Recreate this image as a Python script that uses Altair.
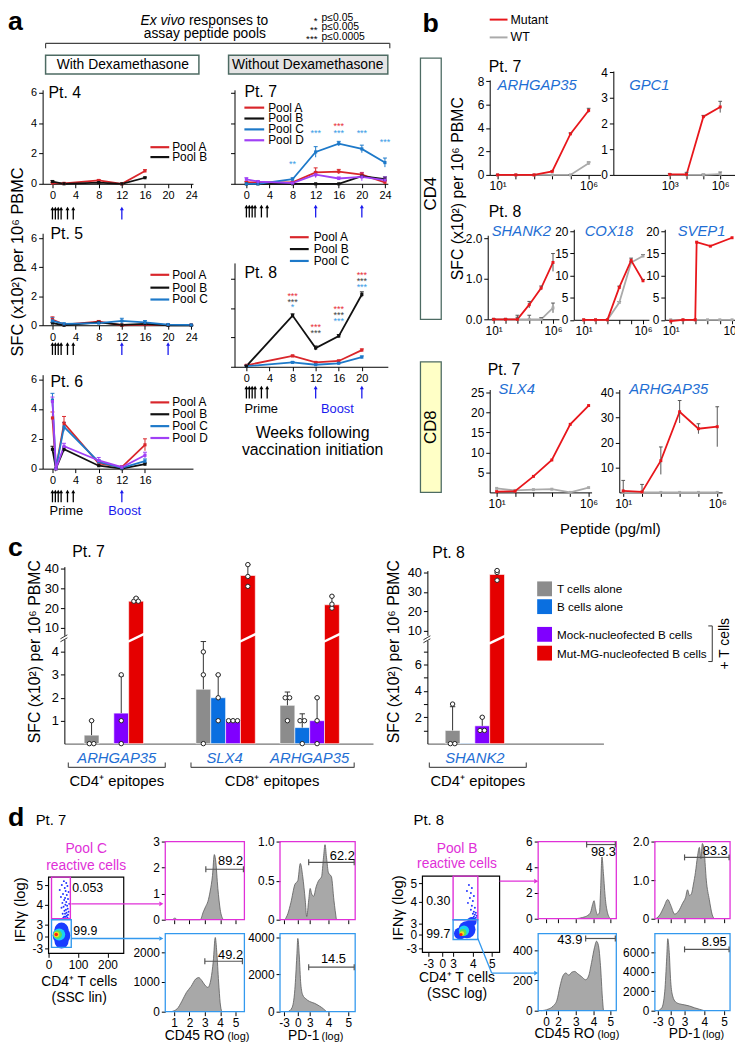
import altair as alt
import pandas as pd

# ============================ DATA ============================
# ---- panel a: ex vivo responses, SFC (x10^2 per 10^6 PBMC) vs weeks ----
PRIME_WEEKS = [0, 0.5, 1.0, 1.5, 2.6, 3.6]

P4_WEEKS = [0, 2, 8, 12, 16]
P4_POOL_A = [0.05, 0.03, 0.22, 0.0, 0.85]
P4_POOL_A_ERR = [0.04, 0.02, 0.06, 0.02, 0.08]
P4_POOL_B = [0.15, 0.0, 0.08, 0.0, 0.40]
P4_POOL_B_ERR = [0.06, 0.0, 0.03, 0.0, 0.04]
P4_BOOST = [12]

P5_WEEKS = [0, 2, 8, 12, 16, 20, 24]
P5_POOL_A = [0.40, 0.05, 0.25, 0.0, 0.05, 0.02, 0.02]
P5_POOL_A_ERR = [0.18, 0.03, 0.08, 0.02, 0.03, 0.02, 0.02]
P5_POOL_B = [0.15, 0.0, 0.20, 0.02, 0.10, 0.0, 0.0]
P5_POOL_B_ERR = [0.05, 0.0, 0.05, 0.02, 0.04, 0.0, 0.0]
P5_POOL_C = [0.30, 0.10, 0.15, 0.30, 0.20, 0.05, 0.02]
P5_POOL_C_ERR = [0.22, 0.05, 0.05, 0.18, 0.12, 0.03, 0.02]
P5_BOOST = [12, 20]

P6_WEEKS = [0, 0.6, 2, 8, 12, 16]
P6_POOL_A = [3.4, 0.0, 3.05, 0.35, 0.10, 1.6]
P6_POOL_A_ERR = [0.4, 0.0, 0.45, 0.10, 0.08, 0.4]
P6_POOL_B = [1.3, 0.0, 1.3, 0.20, 0.0, 0.30]
P6_POOL_B_ERR = [0.2, 0.0, 0.15, 0.05, 0.0, 0.08]
P6_POOL_C = [4.6, 0.0, 2.8, 0.45, 0.05, 0.50]
P6_POOL_C_ERR = [0.45, 0.0, 0.3, 0.15, 0.05, 0.15]
P6_POOL_D = [4.5, 0.0, 1.5, 0.55, 0.10, 0.90]
P6_POOL_D_ERR = [0.3, 0.0, 0.2, 0.2, 0.08, 0.2]
P6_BOOST = [12]

P7_WEEKS = [0, 2, 8, 12, 16, 20, 24]
P7_POOL_A = [0.10, 0.10, 0.10, 0.75, 0.80, 0.60, 0.10]
P7_POOL_A_ERR = [0.05, 0.05, 0.05, 0.30, 0.15, 0.15, 0.10]
P7_POOL_B = [0.0, 0.0, 0.0, 0.0, 0.0, 0.50, 0.30]
P7_POOL_B_ERR = [0.0, 0.0, 0.0, 0.0, 0.0, 0.10, 0.15]
P7_POOL_C = [0.0, 0.0, 0.30, 2.10, 2.65, 2.30, 1.40]
P7_POOL_C_ERR = [0.0, 0.0, 0.10, 0.35, 0.15, 0.25, 0.30]
P7_POOL_D = [0.30, 0.15, 0.05, 0.60, 0.35, 0.45, 0.25]
P7_POOL_D_ERR = [0.10, 0.05, 0.05, 0.20, 0.10, 0.25, 0.20]
P7_BOOST = [12, 20]
P7_STAR_WEEKS = [8, 12, 16, 16, 20, 24]
P7_STAR_Y = [1.3, 3.33, 3.8, 3.33, 3.33, 2.75]
P7_STAR_TEXT = ["**", "***", "***", "***", "***", "***"]
P7_STAR_POOL = ["C", "C", "A", "C", "C", "C"]

P8_WEEKS = [0, 8, 12, 16, 20]
P8_POOL_A = [0.05, 0.37, 0.15, 0.20, 0.57]
P8_POOL_A_ERR = [0.02, 0.03, 0.03, 0.03, 0.04]
P8_POOL_B = [0.02, 1.75, 0.64, 1.05, 2.47]
P8_POOL_B_ERR = [0.02, 0.06, 0.07, 0.05, 0.09]
P8_POOL_C = [0.02, 0.15, 0.07, 0.12, 0.33]
P8_POOL_C_ERR = [0.02, 0.03, 0.02, 0.03, 0.04]
P8_BOOST = [12, 20]
P8_STAR_WEEKS = [8, 8, 8, 12, 12, 16, 16, 16, 20, 20, 20]
P8_STAR_Y = [2.43, 2.23, 2.03, 1.35, 1.15, 1.96, 1.76, 1.55, 3.14, 2.94, 2.74]
P8_STAR_TEXT = ["***", "***", "*", "***", "***", "***", "***", "***", "***", "***", "***"]
P8_STAR_POOL = ["A", "B", "C", "A", "B", "A", "B", "C", "A", "B", "C"]

# ---- panel b: peptide titrations (pg/ml) ----
B_CONC = [10, 100, 1e3, 1e4, 1e5, 1e6]
ARH7_MUT = [0.0, 0.0, 0.0, 0.3, 3.5, 5.5]
ARH7_MUT_ERR = [0.03, 0.03, 0.03, 0.05, 0.08, 0.18]
ARH7_WT = [0.0, 0.0, 0.0, 0.0, 0.0, 1.0]
ARH7_WT_ERR = [0.0, 0.0, 0.0, 0.0, 0.02, 0.1]
GPC1_CONC = [1e3, 1e4, 1e5, 1e6]
GPC1_MUT = [0.02, 0.02, 2.27, 2.65]
GPC1_MUT_ERR = [0.03, 0.08, 0.05, 0.22]
GPC1_WT = [0.0, 0.0, 0.0, 0.03]
GPC1_WT_ERR = [0.0, 0.0, 0.03, 0.08]
SHANK2_MUT = [0.0, 0.0, 0.0, 0.36, 0.77, 1.40]
SHANK2_MUT_ERR = [0.02, 0.02, 0.05, 0.08, 0.05, 0.22]
SHANK2_WT = [0.0, 0.0, 0.0, 0.0, 0.0, 0.28]
SHANK2_WT_ERR = [0.0, 0.0, 0.1, 0.1, 0.04, 0.12]
COX18_MUT = [0.0, 0.0, 0.0, 7.3, 13.4, 8.8]
COX18_MUT_ERR = [0.0, 0.0, 0.0, 0.3, 0.5, 0.3]
COX18_WT = [0.0, 0.0, 0.0, 3.9, 12.9, 14.4]
COX18_WT_ERR = [0.0, 0.0, 0.0, 0.2, 0.3, 0.3]
SVEP1_MUT_CONC = [10, 100, 1000, 1300, 17000, 1e6]
SVEP1_MUT = [-0.3, 0.0, 0.0, 17.5, 16.6, 18.5]
SVEP1_MUT_ERR = [0.0, 0.0, 0.0, 0.0, 0.0, 0.0]
SVEP1_WT = [0.0, 0.0, 0.0, 0.0, 0.0, 0.0]
SVEP1_WT_ERR = [0.0, 0.0, 0.0, 0.0, 0.0, 0.0]
SLX4_MUT = [0.2, 0.3, 4.0, 8.1, 17.0, 21.7]
SLX4_MUT_ERR = [0.0, 0.0, 0.0, 0.0, 0.0, 0.0]
SLX4_WT = [1.0, 0.5, 0.7, 0.8, 0.0, 1.2]
SLX4_WT_ERR = [0.0, 0.0, 0.0, 0.0, 0.0, 0.0]
ARH8_MUT = [0.6, 0.2, 12.7, 32.3, 25.5, 26.3]
ARH8_MUT_ERR = [4.2, 3.0, 5.5, 4.5, 2.0, 8.0]
ARH8_WT = [0.0, 0.0, 0.0, 0.0, 0.0, 0.0]
ARH8_WT_ERR = [0.0, 0.0, 0.0, 0.0, 0.0, 0.0]

# ---- panel c: B-cell presentation assay ----
C_CONDS = ["T cells alone", "B cells alone", "Mock-nucleofected B cells", "Mut-MG-nucleofected B cells"]
C7_MEAN = [[0.37, None, 1.33, 23.5], [2.37, 2.0, 1.0, 36.5], [1.67, 0.7, 1.0, 21.7]]
C7_UPPER = [[1.0, None, 2.95, 25.3], [4.45, 3.0, None, 42.0], [2.25, 1.3, 2.0, 26.0]]
C7_DOTS = [[[0, 0, 1], [], [0, 1, 3], [23.5, 25, 23.5]],
           [[0, 3, 4], [1, 2, 3], [1, 1, 1], [31, 36, 42]],
           [[1, 2, 2], [0, 1, 1], [0, 1, 2], [20, 22, 26]]]
C8_MEAN = [[1.0, 0.04, 1.35, 39.0]]
C8_UPPER = [[2.8, None, 2.0, 41.0]]
C8_DOTS = [[[0, 0, 3], [], [1, 1, 2], [36, 40, 41]]]

# ---- panel d: flow cytometry ----
PT7_DOT_X = [52, 60, 45, 64, 55, 38, 58, 68, 49, 62, 42, 56, 66, 53, 60, 47, 70, 57,
             63, 51, 44, 65, 59, 54, 68, 61, 48, 56, 66, 62, 58, 53, 64, 50, 69, 57]
PT7_DOT_Q = [73, 71, 69, 68, 66, 64, 63, 62, 60, 59, 57, 56, 55, 54, 52, 51, 50, 49,
             48, 47, 46, 45, 44, 43, 42, 41, 40, 40, 39, 38, 37, 37, 36, 36, 35, 35]
PT8_DOT_P = [47, 50, 45, 49, 52, 48, 51, 46, 50, 53, 49, 52, 54, 51, 53, 55, 52, 54]
PT8_DOT_Q = [68, 65, 62, 60, 57, 55, 52, 50, 47, 45, 43, 41, 40, 39, 38, 37, 36, 35]
BLOB_COLORS = ["#1a3cff", "#1a3cff", "#1a3cff", "#19d3f3", "#5be05b", "#f0e020", "#ff2010"]
PT7_BLOB_X = [44, 44, 44, 36, 31, 27, 26]
PT7_BLOB_Q = [18, 24, 12, 19, 19, 19, 19]
PT7_BLOB_S = [320, 200, 200, 150, 75, 32, 13]
PT8_BLOB_P = [45, 50, 38, 42, 41, 40, 39]
PT8_BLOB_Q = [23, 31, 19, 22, 20, 19, 18]
PT8_BLOB_S = [300, 90, 150, 110, 50, 20, 10]

PT7_CD45_TOP_X = [0.9, 1.05, 1.2, 2.7, 2.9, 3.05, 3.2, 3.35, 3.5, 3.62, 3.7, 3.85, 4.0, 4.2]
PT7_CD45_TOP_Y = [0, 0.06, 0, 0, 0.3, 0.5, 0.7, 1.1, 1.7, 2.5, 2.3, 1.2, 0.4, 0]
PT7_CD45_BOT_X = [0.8, 1.2, 1.5, 1.8, 2.1, 2.4, 2.6, 2.8, 3.0, 3.2, 3.4, 3.55, 3.68, 3.78, 3.9, 4.0, 4.1]
PT7_CD45_BOT_Y = [0, 100, 350, 650, 850, 1100, 1150, 1050, 900, 820, 1100, 1700, 2500, 2000, 1000, 300, 0]
PT7_PD1_TOP_P = [5, 8, 11, 15, 18, 20.5, 23, 25.5, 27, 29, 30.5, 32, 34, 36.5, 39, 42, 44, 45.5, 47, 49, 52, 54.5, 57]
PT7_PD1_TOP_Y = [0, 0.08, 0.22, 0.45, 0.5, 0.72, 0.55, 0.25, 0.04, 0.25, 0.4, 0.33, 0.3, 0.42, 0.5,
                 0.55, 0.8, 0.96, 0.8, 0.6, 0.55, 0.25, 0]
PT7_PD1_BOT_P = [8, 12, 15, 17, 18, 19.5, 21, 23, 26, 30, 35, 40, 44, 47]
PT7_PD1_BOT_Y = [0, 200, 1200, 3000, 3950, 3000, 1500, 900, 700, 550, 450, 300, 150, 0]
PT8_CD45_TOP_P = [38, 45, 50, 53, 55, 56.5, 58, 60, 62, 63, 64.5, 66, 68, 70, 73]
PT8_CD45_TOP_Y = [0, 0.1, 0.25, 0.5, 1.1, 1.4, 0.8, 0.3, 0.5, 2.0, 4.8, 3.5, 1.5, 0.5, 0]
PT8_CD45_BOT_P = [3, 10, 15, 19, 22, 25, 28, 31, 34, 37, 40, 44, 48, 51, 54, 57, 59, 61, 63, 65, 66]
PT8_CD45_BOT_Y = [0, 10, 30, 70, 160, 230, 250, 235, 255, 260, 245, 225, 205, 230, 320, 420, 460, 430, 300, 80, 0]
PT8_PD1_TOP_P = [1, 5, 9, 13, 16, 20, 24, 28, 31, 33, 35, 37, 39, 41, 43, 45, 46.5, 48, 50, 52, 55, 58, 60]
PT8_PD1_TOP_Y = [0, 0.1, 0.3, 0.5, 0.35, 0.12, 0.2, 0.4, 0.55, 0.75, 0.6, 0.65, 0.9, 1.2, 1.6, 1.85,
                 1.55, 1.95, 1.7, 1.0, 0.5, 0.1, 0]
PT8_PD1_BOT_P = [3, 7, 10, 12, 13, 14.5, 16, 18, 21, 25, 30, 35, 40, 45, 50]
PT8_PD1_BOT_Y = [0, 300, 2000, 5500, 7400, 6000, 3000, 1500, 900, 700, 600, 480, 300, 150, 0]

# ============================ STYLE / LAYOUT ============================
W, H, M = 735, 1042, 8
FONT = "Liberation Sans"

COL_A, COL_B, COL_C, COL_D = "#d9262b", "#111111", "#1d79c9", "#a040f5"
STAR_COL = {"A": "#e8303a", "B": "#444444", "C": "#3a9be6"}
COL_MUT, COL_WT = "#e8161b", "#aaaaaa"
COL_T, COL_BC, COL_MOCK, COL_MG = "#8c8c8c", "#0a6fe0", "#8000ff", "#e50000"
GENE_BLUE, BOOST_BLUE, MAGENTA, GATE_BLUE = "#1f6fd4", "#1a1aee", "#e030d8", "#3399ee"
BOX_EDGE = "#4d6b63"

SERIES = ["Pool A", "Pool B", "Pool C", "Pool D", "Mutant", "WT"] + C_CONDS
SERIES_COLORS = [COL_A, COL_B, COL_C, COL_D, COL_MUT, COL_WT, COL_T, COL_BC, COL_MOCK, COL_MG]
COLOR = alt.Color("series:N", scale=alt.Scale(domain=SERIES, range=SERIES_COLORS), legend=None)


def X(p):
    return p - M


def Y(p):
    return p - M


def _px(df, cols):
    for c in cols:
        df[c] = df[c].astype(float) - M
    return df


def ptext(rows, size=12, color="black", align="center", baseline="middle", style="normal",
          weight="normal", angle=None):
    df = _px(pd.DataFrame(rows, columns=["t", "x", "y"]), ["x", "y"])
    props = dict(font=FONT, fontSize=size, color=color, align=align, baseline=baseline,
                 fontStyle=style, fontWeight=weight)
    if angle is not None:
        props["angle"] = angle
    return alt.Chart(df).mark_text(**props).encode(
        x=alt.X("x:Q", scale=None), y=alt.Y("y:Q", scale=None), text=alt.Text("t:N"))


def prules(rows, color="black", width=1.0):
    df = _px(pd.DataFrame(rows, columns=["x", "y", "x2", "y2"]), ["x", "y", "x2", "y2"])
    return alt.Chart(df).mark_rule(color=color, strokeWidth=width).encode(
        x=alt.X("x:Q", scale=None), y=alt.Y("y:Q", scale=None), x2="x2:Q", y2="y2:Q")


def prects(rows, fill="white", stroke=None, width=1.0, fill_opacity=1.0):
    df = _px(pd.DataFrame(rows, columns=["x", "y", "x2", "y2"]), ["x", "y", "x2", "y2"])
    props = dict(fill=fill, fillOpacity=fill_opacity)
    if stroke is not None:
        props.update(stroke=stroke, strokeWidth=width)
    else:
        props.update(strokeWidth=0)
    return alt.Chart(df).mark_rect(**props).encode(
        x=alt.X("x:Q", scale=None), y=alt.Y("y:Q", scale=None), x2="x2:Q", y2="y2:Q")


def ppoints(rows, shape, size, color):
    df = _px(pd.DataFrame(rows, columns=["x", "y"]), ["x", "y"])
    return alt.Chart(df).mark_point(shape=shape, size=size, filled=True, color=color, opacity=1).encode(
        x=alt.X("x:Q", scale=None), y=alt.Y("y:Q", scale=None))


def sx(dom, p0, p1, log=False):
    if log:
        return alt.Scale(type="log", domain=dom, range=[X(p0), X(p1)], nice=False)
    return alt.Scale(domain=dom, range=[X(p0), X(p1)], nice=False, zero=False)


def sy(dom, pixels):
    return alt.Scale(domain=dom, range=[Y(p) for p in pixels], nice=False, zero=False)


def _ax(orient, offset, values, labels, size, expr, ticks, domain, dcolor, dwidth, fmt):
    kw = dict(orient=orient, offset=offset, labels=labels, ticks=ticks, domain=domain,
              title=None, grid=False, labelFont=FONT, labelFontSize=size, labelColor="black",
              tickColor="black", tickSize=4, tickWidth=1, domainColor=dcolor, domainWidth=dwidth,
              labelPadding=2, labelOverlap=False, labelFlush=False)
    if values is not None:
        kw["values"] = values
    if expr:
        kw["labelExpr"] = expr
    if fmt:
        kw["format"] = fmt
    return alt.Axis(**kw)


def xax(ypx, values=None, labels=True, size=11, expr=None, ticks=True, domain=True,
        dcolor="black", dwidth=1, fmt=None):
    return _ax("bottom", Y(ypx) - H, values, labels, size, expr, ticks, domain, dcolor, dwidth, fmt)


def yax(xpx, values=None, labels=True, size=11, expr=None, ticks=True, domain=True,
        dcolor="black", dwidth=1, fmt=None):
    return _ax("left", -X(xpx), values, labels, size, expr, ticks, domain, dcolor, dwidth, fmt)


def map_expr(vals, labs):
    e = "''"
    for v, l in reversed(list(zip(vals, labs))):
        e = f"datum.value == {v} ? '{l}' : {e}"
    return e


# ============================ BUILDERS ============================
def timecourse(series, xsc, ysc, xaxis, yaxis, arrow_y, boosts, stars=None):
    rows = []
    for name, wk, vals, errs in series:
        for w, v, e in zip(wk, vals, errs):
            rows.append({"week": w, "value": v, "lo": max(v - e, 0.0), "hi": v + e, "err": e, "series": name})
    df = pd.DataFrame(rows)
    dfe = df[df["err"] > 0]
    xe = alt.X("week:Q", scale=xsc, axis=xaxis)

    def ye(f):
        return alt.Y(f + ":Q", scale=ysc, axis=yaxis)

    parts = [
        alt.Chart(dfe).mark_rule(strokeWidth=1).encode(x=xe, y=ye("lo"), y2="hi:Q", color=COLOR),
        alt.Chart(dfe).mark_point(shape="stroke", size=16, strokeWidth=1, opacity=1).encode(
            x=xe, y=ye("hi"), color=COLOR),
        alt.Chart(df).mark_line(strokeWidth=1.8).encode(x=xe, y=ye("value"), color=COLOR),
        alt.Chart(df).mark_point(shape="square", filled=True, size=10, opacity=1).encode(
            x=xe, y=ye("value"), color=COLOR),
    ]
    for wks, col in ((PRIME_WEEKS, "black"), (boosts, BOOST_BLUE)):
        adf = pd.DataFrame({"week": wks})
        parts.append(alt.Chart(adf).mark_rule(color=col, strokeWidth=1.3).encode(
            x=xe, y=alt.value(Y(arrow_y - 3)), y2=alt.value(Y(arrow_y + 7))))
        parts.append(alt.Chart(adf).mark_point(shape="triangle-up", filled=True, size=16, color=col,
                                               opacity=1).encode(x=xe, y=alt.value(Y(arrow_y - 4))))
    if stars is not None:
        wks, ys, labs, pools = stars
        sdf = pd.DataFrame({"week": wks, "sy": ys, "t": labs, "pool": pools})
        for p in ["A", "B", "C"]:
            sub = sdf[sdf["pool"] == p]
            if len(sub):
                parts.append(alt.Chart(sub).mark_text(font=FONT, fontSize=9, color=STAR_COL[p],
                                                      baseline="middle").encode(
                    x=xe, y=ye("sy"), text="t:N"))
    return alt.layer(*parts)


def dose(mut_c, mut, mut_e, wt_c, wt, wt_e, xsc, ysc, xaxis, yaxis):
    parts = []
    for name, cc, vals, errs in (("WT", wt_c, wt, wt_e), ("Mutant", mut_c, mut, mut_e)):
        df = pd.DataFrame({"conc": cc, "value": vals, "err": errs})
        df["lo"] = (df["value"] - df["err"]).clip(lower=0)
        df["hi"] = df["value"] + df["err"]
        df["series"] = name
        dfe = df[df["err"] > 0]
        xe = alt.X("conc:Q", scale=xsc, axis=xaxis)
        parts += [
            alt.Chart(df).mark_line(strokeWidth=1.8).encode(
                x=xe, y=alt.Y("value:Q", scale=ysc, axis=yaxis), color=COLOR),
            alt.Chart(dfe).mark_rule(color="#555555", strokeWidth=1).encode(
                x=xe, y=alt.Y("lo:Q", scale=ysc, axis=yaxis), y2="hi:Q"),
            alt.Chart(dfe).mark_point(shape="stroke", size=14, color="#555555", strokeWidth=1,
                                      opacity=1).encode(x=xe, y=alt.Y("hi:Q", scale=ysc, axis=yaxis)),
            alt.Chart(df).mark_point(shape="square", filled=True, size=9, opacity=1).encode(
                x=xe, y=alt.Y("value:Q", scale=ysc, axis=yaxis), color=COLOR),
        ]
    return alt.layer(*parts)


def bars(starts, means, uppers, dots, xsc, ysc, xaxis, yaxis, brk):
    rrows, erows, drows, brows = [], [], [], []
    for g, st in enumerate(starts):
        for s, cond in enumerate(C_CONDS):
            x0 = st + s
            m = means[g][s]
            if m is not None:
                rrows.append({"x0": x0, "x1": x0 + 1, "v": m, "z": 0.0, "series": cond})
                if m > brk[2]:
                    brows.append({"x0": x0 - 0.05, "x1": x0 + 1.05})
            u = uppers[g][s]
            if u is not None and m is not None and u > m:
                erows.append({"xc": x0 + 0.5, "m": m, "u": u})
            vals = dots[g][s]
            cnt = {v: vals.count(v) for v in vals}
            seen = {}
            for v in vals:
                k = seen.get(v, 0)
                seen[v] = k + 1
                drows.append({"xd": x0 + 0.5 + (k - (cnt[v] - 1) / 2) * 0.3, "d": v})

    def xe(f):
        return alt.X(f + ":Q", scale=xsc, axis=xaxis)

    def ye(f):
        return alt.Y(f + ":Q", scale=ysc, axis=yaxis)

    parts = [
        alt.Chart(pd.DataFrame(rrows)).mark_rect(stroke="white", strokeWidth=0.6).encode(
            x=xe("x0"), x2="x1:Q", y=ye("v"), y2="z:Q", color=COLOR),
        alt.Chart(pd.DataFrame(brows)).mark_rule(color="white", strokeWidth=2.5).encode(
            x=xe("x0"), x2="x1:Q", y=alt.value(Y(brk[0])), y2=alt.value(Y(brk[1]))),
        alt.Chart(pd.DataFrame(erows)).mark_rule(color="#333333", strokeWidth=1).encode(
            x=xe("xc"), y=ye("m"), y2="u:Q"),
        alt.Chart(pd.DataFrame(erows)).mark_point(shape="stroke", size=30, color="#333333",
                                                  strokeWidth=1, opacity=1).encode(x=xe("xc"), y=ye("u")),
        alt.Chart(pd.DataFrame(drows)).mark_point(shape="circle", filled=True, fill="white",
                                                  stroke="#222222", strokeWidth=1, size=20,
                                                  opacity=1).encode(x=xe("xd"), y=ye("d")),
    ]
    return alt.layer(*parts)


def hist(xs, ys, xsc, ysc, xaxis, yaxis):
    df = pd.DataFrame({"x": xs, "y": ys})
    return alt.Chart(df).mark_area(color="#a8a8a8", interpolate="monotone", opacity=1,
                                   line={"color": "#5a5a5a", "strokeWidth": 0.8}).encode(
        x=alt.X("x:Q", scale=xsc, axis=xaxis), y=alt.Y("y:Q", scale=ysc, axis=yaxis))


def scatter(xsc, ysc, xaxis, yaxis, frame, gates, blob, dots):
    def xe(f):
        return alt.X(f + ":Q", scale=xsc, axis=xaxis)

    def ye(f):
        return alt.Y(f + ":Q", scale=ysc, axis=yaxis)

    fx0, fx1, fy0, fy1 = frame
    fdf = pd.DataFrame({"x": [fx0], "x2": [fx1], "y": [fy0], "y2": [fy1]})
    parts = [alt.Chart(fdf).mark_rect(fill="white", fillOpacity=0, stroke="black", strokeWidth=1.2).encode(
        x=xe("x"), x2="x2:Q", y=ye("y"), y2="y2:Q")]
    bx, bq, bs, bc = blob
    bdf = pd.DataFrame({"x": bx, "y": bq, "s": bs, "c": bc})
    parts.append(alt.Chart(bdf).mark_point(filled=True, opacity=1, shape="circle").encode(
        x=xe("x"), y=ye("y"), size=alt.Size("s:Q", scale=None), fill=alt.Fill("c:N", scale=None)))
    ddf = pd.DataFrame({"x": dots[0], "y": dots[1]})
    parts.append(alt.Chart(ddf).mark_point(filled=True, opacity=1, shape="circle", size=4,
                                           color="#2233ff").encode(x=xe("x"), y=ye("y")))
    for gx0, gx1, gy0, gy1, col in gates:
        gdf = pd.DataFrame({"x": [gx0], "x2": [gx1], "y": [gy0], "y2": [gy1]})
        parts.append(alt.Chart(gdf).mark_rect(fill="white", fillOpacity=0, stroke=col,
                                              strokeWidth=1.4).encode(
            x=xe("x"), x2="x2:Q", y=ye("y"), y2="y2:Q"))
    return alt.layer(*parts)


layers = []
YTITLE = "SFC (x10²) per 10⁶ PBMC"

# ============================ PANEL a ============================
layers += [
    ptext([("a", 8, 25)], size=27, weight="bold", align="left", baseline="alphabetic"),
    ptext([("Ex vivo", 187, 15)], size=14, style="italic", align="right"),
    ptext([("responses to", 191, 15)], size=14, align="left"),
    ptext([("assay peptide pools", 207, 29)], size=14),
    ptext([("*", 321, 15), ("**", 321, 24.5), ("***", 321, 34)], size=10, align="right"),
    ptext([("p≤0.05", 325, 12.5), ("p≤0.005", 325, 22), ("p≤0.0005", 325, 31.5)], size=10.5, align="left"),
    prules([(46, 38, 394, 38), (46, 38, 46, 43), (394, 38, 394, 43)], color="#444444", width=1.2),
    prects([(46, 50, 201, 69)], fill="white", stroke=BOX_EDGE, width=1.5),
    prects([(231, 50, 392, 69)], fill="#e4e4e4", stroke=BOX_EDGE, width=1.5),
    ptext([("With Dexamethasone", 124, 60), ("Without Dexamethasone", 311, 60)], size=14),
    ptext([(YTITLE, 18, 259)], size=16.5, angle=270),
    ptext([("Pt. 4", 49, 88), ("Pt. 5", 51, 231), ("Pt. 6", 51, 380), ("Pt. 7", 247, 87),
           ("Pt. 8", 247, 270)], size=16, align="left"),
    ptext([("Prime", 67, 511), ("Prime", 264, 408)], size=13),
    ptext([("Boost", 126, 511), ("Boost", 341, 408)], size=13, color=BOOST_BLUE),
    ptext([("Weeks following", 316, 432), ("vaccination initiation", 316, 449)], size=16),
]


def pool_legend(x0, x1, tx, ys, names):
    cols = {"Pool A": COL_A, "Pool B": COL_B, "Pool C": COL_C, "Pool D": COL_D}
    out = []
    for y, n in zip(ys, names):
        out.append(prules([(x0, y, x1, y)], color=cols[n], width=2.2))
    out.append(ptext([(n, tx, y) for y, n in zip(ys, names)], size=12, align="left"))
    return out


layers += pool_legend(152, 171, 174, [143, 153], ["Pool A", "Pool B"])
layers += pool_legend(152, 171, 174, [272, 285, 297], ["Pool A", "Pool B", "Pool C"])
layers += pool_legend(152, 171, 174, [401, 413, 425, 437], ["Pool A", "Pool B", "Pool C", "Pool D"])
layers += pool_legend(247, 267, 271, [103, 114, 125, 136], ["Pool A", "Pool B", "Pool C", "Pool D"])
layers += pool_legend(293, 312, 317, [234, 246, 258], ["Pool A", "Pool B", "Pool C"])

WK_ALL = [0, 4, 8, 12, 16, 20, 24]
xs_left = sx([-1.7, 24.3], 43, 195)
xs_right = sx([-2.06, 24.5], 237, 392)

layers.append(timecourse(
    [("Pool A", P4_WEEKS, P4_POOL_A, P4_POOL_A_ERR), ("Pool B", P4_WEEKS, P4_POOL_B, P4_POOL_B_ERR)],
    xs_left, sy([0, 6.2], [180, 85]), xax(180, WK_ALL), yax(43, [0, 2, 4, 6]), 209, P4_BOOST))
layers.append(timecourse(
    [("Pool A", P5_WEEKS, P5_POOL_A, P5_POOL_A_ERR), ("Pool B", P5_WEEKS, P5_POOL_B, P5_POOL_B_ERR),
     ("Pool C", P5_WEEKS, P5_POOL_C, P5_POOL_C_ERR)],
    xs_left, sy([0, 6.35], [323, 230]), xax(323, WK_ALL), yax(43, [0, 2, 4, 6]), 346, P5_BOOST))
layers.append(timecourse(
    [("Pool A", P6_WEEKS, P6_POOL_A, P6_POOL_A_ERR), ("Pool B", P6_WEEKS, P6_POOL_B, P6_POOL_B_ERR),
     ("Pool C", P6_WEEKS, P6_POOL_C, P6_POOL_C_ERR), ("Pool D", P6_WEEKS, P6_POOL_D, P6_POOL_D_ERR)],
    xs_left, sy([0, 6.3], [468, 373]), xax(468, [0, 4, 8, 12, 16]), yax(43, [0, 2, 4, 6]), 495, P6_BOOST))
layers.append(timecourse(
    [("Pool A", P7_WEEKS, P7_POOL_A, P7_POOL_A_ERR), ("Pool B", P7_WEEKS, P7_POOL_B, P7_POOL_B_ERR),
     ("Pool C", P7_WEEKS, P7_POOL_C, P7_POOL_C_ERR), ("Pool D", P7_WEEKS, P7_POOL_D, P7_POOL_D_ERR)],
    xs_right, sy([0, 6.2], [180, 85]), xax(180, WK_ALL), yax(237, [0, 2, 4, 6], labels=False), 207,
    P7_BOOST, (P7_STAR_WEEKS, P7_STAR_Y, P7_STAR_TEXT, P7_STAR_POOL)))
layers.append(timecourse(
    [("Pool A", P8_WEEKS, P8_POOL_A, P8_POOL_A_ERR), ("Pool C", P8_WEEKS, P8_POOL_C, P8_POOL_C_ERR),
     ("Pool B", P8_WEEKS, P8_POOL_B, P8_POOL_B_ERR)],
    xs_right, sy([0, 3.55], [365, 260]), xax(365, [0, 4, 8, 12, 16, 20]), yax(237, [0, 1, 2, 3], labels=False),
    390, P8_BOOST, (P8_STAR_WEEKS, P8_STAR_Y, P8_STAR_TEXT, P8_STAR_POOL)))

# ============================ PANEL b ============================
layers += [
    ptext([("b", 427, 27)], size=27, weight="bold", align="left", baseline="alphabetic"),
    prules([(495, 14, 513, 14)], color=COL_MUT, width=2),
    prules([(495, 32, 513, 32)], color=COL_WT, width=2),
    ptext([("Mutant", 516, 14), ("WT", 516, 32)], size=12.5, align="left"),
    prects([(425, 53, 446, 317)], fill="white", stroke=BOX_EDGE, width=1.3),
    prects([(425, 360, 446, 492)], fill="#ffffc6", stroke=BOX_EDGE, width=1.3),
    ptext([("CD4", 436, 190), ("CD8", 436, 426)], size=17, angle=270),
    ptext([(YTITLE, 463, 185)], size=16, angle=270),
    ptext([("Pt. 7", 494, 62), ("Pt. 8", 494, 209), ("Pt. 7", 493, 368)], size=16, align="left"),
    ptext([("ARHGAP35", 503, 80), ("GPC1", 636, 80), ("SHANK2", 497, 228), ("COX18", 591, 228),
           ("SVEP1", 685, 228), ("SLX4", 504, 388), ("ARHGAP35", 636, 388)],
          size=15, style="italic", color=GENE_BLUE, align="left"),
    ptext([("Peptide (pg/ml)", 617, 529)], size=15),
]
LOG_EXPR = map_expr([10, 1000000], ["10¹", "10⁶"])
LOG_EXPR3 = map_expr([1000, 1000000], ["10³", "10⁶"])
DEC = [10, 100, 1e3, 1e4, 1e5, 1e6]

layers.append(dose(B_CONC, ARH7_MUT, ARH7_MUT_ERR, B_CONC, ARH7_WT, ARH7_WT_ERR,
                   sx([10 ** 0.565, 10 ** 6.65], 495, 607, log=True), sy([0, 8.1], [171, 75]),
                   xax(171, DEC, size=12, expr=LOG_EXPR), yax(495, [0, 2, 4, 6, 8], size=12)))
layers.append(dose(GPC1_CONC, GPC1_MUT, GPC1_MUT_ERR, GPC1_CONC, GPC1_WT, GPC1_WT_ERR,
                   sx([10 ** -0.353, 10 ** 6.88], 620, 743, log=True), sy([0, 4.05], [171, 66]),
                   xax(171, [1e3, 1e4, 1e5, 1e6], size=12, expr=LOG_EXPR3), yax(620, [0, 1, 2, 3, 4], size=12)))
layers.append(dose(B_CONC, SHANK2_MUT, SHANK2_MUT_ERR, B_CONC, SHANK2_WT, SHANK2_WT_ERR,
                   sx([10 ** 0.5, 10 ** 6.5], 493, 565, log=True), sy([0, 2.07], [317, 232]),
                   xax(317, DEC, size=12, expr=LOG_EXPR), yax(493, [0, 1, 2], size=12)))
layers.append(dose(B_CONC, COX18_MUT, COX18_MUT_ERR, B_CONC, COX18_WT, COX18_WT_ERR,
                   sx([10 ** 0.167, 10 ** 6.5], 580, 656, log=True), sy([0, 20.4], [317.5, 226]),
                   xax(317.5, DEC, size=12, expr=LOG_EXPR), yax(580, [0, 5, 10, 15, 20], size=12)))
layers.append(dose(SVEP1_MUT_CONC, SVEP1_MUT, SVEP1_MUT_ERR, B_CONC, SVEP1_WT, SVEP1_WT_ERR,
                   sx([10 ** 0.516, 10 ** 6.24], 672, 743, log=True), sy([0, 20.4], [317.5, 226]),
                   xax(317.5, DEC, size=12, expr=LOG_EXPR), yax(672, [0, 5, 10, 15, 20], size=12)))
layers.append(dose(B_CONC, SLX4_MUT, SLX4_MUT_ERR, B_CONC, SLX4_WT, SLX4_WT_ERR,
                   sx([10 ** 0.624, 10 ** 6.16], 495, 598, log=True), sy([0, 25.7], [492, 388]),
                   xax(492, DEC, size=12, expr=LOG_EXPR), yax(495, [5, 10, 15, 20, 25], size=12)))
layers.append(dose(B_CONC, ARH8_MUT, ARH8_MUT_ERR, B_CONC, ARH8_WT, ARH8_WT_ERR,
                   sx([10 ** 0.79, 10 ** 6.26], 626, 730, log=True), sy([0, 41.2], [492, 388]),
                   xax(492, DEC, size=12, expr=LOG_EXPR), yax(626, [10, 20, 30, 40], size=12)))

# ============================ PANEL c ============================
layers += [
    ptext([("c", 8, 556)], size=27, weight="bold", align="left", baseline="alphabetic"),
    ptext([("Pt. 7", 73, 552), ("Pt. 8", 437, 553)], size=16, align="left"),
    ptext([(YTITLE, 35, 653), (YTITLE, 398, 653)], size=16, angle=270),
]
layers.append(bars([1.333, 8.867, 14.533], C7_MEAN, C7_UPPER, C7_DOTS,
                   sx([0, 20.8], 65, 377), sy([0, 4.57, 6, 41], [746, 640, 637, 567]),
                   xax(746, None, labels=False, ticks=False, dcolor="#777777", dwidth=1.5),
                   yax(65, [1, 2, 3, 4, 10, 20, 30, 40], size=13), (643, 635, 5)))
layers.append(bars([1.2], C8_MEAN, C8_UPPER, C8_DOTS,
                   sx([0, 11.87], 432, 610), sy([0, 7.8, 8, 41], [746, 642, 636, 571]),
                   xax(746, None, labels=False, ticks=False, dcolor="#777777", dwidth=1.5),
                   yax(432, [1, 2, 3, 4, 5, 6, 7, 10, 20, 30, 40], size=13,
                       expr="(datum.value == 1 || datum.value == 3 || datum.value == 5 || datum.value == 7) ? '' : datum.label"),
                   (645, 637, 8)))
layers += [
    prects([(63, 637, 67, 641), (430, 637, 434, 642)], fill="white"),
    prules([(61, 640, 68, 636), (61, 643, 68, 639), (428, 641, 435, 637), (428, 644, 435, 640)],
           color="#333333", width=1),
    ptext([("ARHGAP35", 118, 761), ("SLX4", 227, 761), ("ARHGAP35", 313, 761), ("SHANK2", 480, 761)],
          size=15, style="italic", color=GENE_BLUE),
    ptext([("CD4⁺ epitopes", 118, 784), ("CD8⁺ epitopes", 275, 784), ("CD4⁺ epitopes", 483, 784)], size=15),
    prules([(69, 770, 167, 770), (69, 765, 69, 770), (167, 765, 167, 770),
            (193, 770, 358, 770), (193, 765, 193, 770), (358, 765, 358, 770),
            (434, 770, 532, 770), (434, 765, 434, 770), (532, 765, 532, 770)], color="#555555", width=1.2),
    prects([(543, 582, 558, 597)], fill=COL_T),
    prects([(543, 600, 558, 615)], fill=COL_BC),
    prects([(543, 628, 558, 643)], fill=COL_MOCK),
    prects([(543, 647, 558, 662)], fill=COL_MG),
    ptext([(C_CONDS[0], 563, 590), (C_CONDS[1], 563, 608), (C_CONDS[2], 563, 636), (C_CONDS[3], 563, 655)],
          size=11.8, align="left"),
    prules([(716, 627, 720, 627), (720, 627, 720, 663), (716, 663, 720, 663)], color="#333333", width=1),
    ptext([("+ T cells", 733, 645)], size=14, angle=270),
]

# ============================ PANEL d ============================
layers += [
    ptext([("d", 8, 829)], size=27, weight="bold", align="left", baseline="alphabetic"),
    ptext([("Pt. 7", 36, 823), ("Pt. 8", 418, 823)], size=15, align="left"),
    ptext([("Pool C", 87, 853), ("reactive cells", 87, 870), ("Pool B", 462, 853),
           ("reactive cells", 462, 868)], size=14, color=MAGENTA),
    ptext([("IFNγ (log)", 20, 914), ("IFNγ (log)", 402, 912)], size=15, angle=270),
    ptext([("CD4⁺ T cells", 80, 987), ("(SSC lin)", 80, 1003), ("CD4⁺ T cells", 462, 983),
           ("(SSC log)", 462, 999)], size=14),
    ptext([("0.053", 73, 892), ("99.9", 74, 935)], size=12.5, align="left"),
    ptext([("0.30", 443, 905), ("99.7", 443, 938)], size=12.5),
    ptext([("CD45 RO", 227, 1042), ("PD-1", 323, 1042), ("CD45 RO", 601, 1040), ("PD-1", 708, 1040)],
          size=14, align="right"),
    ptext([("(log)", 230, 1043), ("(log)", 325, 1043), ("(log)", 604, 1041), ("(log)", 710, 1041)],
          size=11, align="left"),
]

# scatter plots
SC_Y_EXPR7 = map_expr([5, 17, 29, 49, 69], ["-3", "0", "3", "4", "5"])
SC_Y_EXPR8 = map_expr([4, 18, 29, 51, 70], ["-3", "0", "3", "4", "5"])
SC_X_EXPR8 = map_expr([6, 20, 31, 51, 70], ["-3", "0", "3", "4", "5"])
layers.append(scatter(sx([0, 255], 49, 125), sy([0, 77], [958, 881]),
                      xax(958, [0, 100, 200], size=12, domain=False),
                      yax(49, [5, 17, 29, 49, 69], size=12, expr=SC_Y_EXPR7, domain=False),
                      (0, 255, 0, 77), [(10, 74, 35, 77, MAGENTA), (10, 77, 6, 34, GATE_BLUE)],
                      (PT7_BLOB_X, PT7_BLOB_Q, PT7_BLOB_S, BLOB_COLORS), (PT7_DOT_X, PT7_DOT_Q)))
layers.append(scatter(sx([0, 78], 427, 505), sy([0, 77], [957, 880]),
                      xax(957, [6, 20, 31, 51, 70], size=12, expr=SC_X_EXPR8, domain=False),
                      yax(427, [4, 18, 29, 51, 70], size=12, expr=SC_Y_EXPR8, domain=False),
                      (0, 78, 0, 77), [(31, 56, 33, 77, MAGENTA), (31, 56, 13, 33, GATE_BLUE)],
                      (PT8_BLOB_P, PT8_BLOB_Q, PT8_BLOB_S, BLOB_COLORS), (PT8_DOT_P, PT8_DOT_Q)))

# histograms
DEC1 = "datum.value == 0 ? '0' : format(datum.value, '.1f')"
P7_PD1_TICKS = [4, 18, 30, 49, 69]
P8_CD45_TICKS = [8, 20, 38, 56, 73]
P8_PD1_TICKS = [3, 16, 30, 50, 70]
PD1_LABS = ["-3", "0", "3", "4", "5"]

layers.append(hist(PT7_CD45_TOP_X, PT7_CD45_TOP_Y, sx([0.42, 5.58], 167, 247), sy([0, 3.0], [924, 845]),
                   xax(924, [1, 2, 3, 4, 5], labels=False, domain=False),
                   yax(167, [0, 1, 2, 3], size=12, domain=False)))
layers.append(hist(PT7_CD45_BOT_X, PT7_CD45_BOT_Y, sx([0.42, 5.58], 167, 247), sy([0, 2633], [1017, 938]),
                   xax(1017, [1, 2, 3, 4, 5], size=12, domain=False),
                   yax(167, [0, 1000, 2000], size=12, domain=False, fmt="d")))
layers.append(hist(PT7_PD1_TOP_P, PT7_PD1_TOP_Y, sx([0, 76], 283, 359), sy([0, 1.0], [924, 845]),
                   xax(924, P7_PD1_TICKS, labels=False, domain=False),
                   yax(283, [0, 0.5, 1.0], size=12, expr=DEC1, domain=False)))
layers.append(hist(PT7_PD1_BOT_P, PT7_PD1_BOT_Y, sx([0, 76], 283, 359), sy([0, 4213], [1017, 938]),
                   xax(1017, P7_PD1_TICKS, size=12, expr=map_expr(P7_PD1_TICKS, PD1_LABS), domain=False),
                   yax(283, [0, 2000, 4000], size=12, domain=False, fmt="d")))
layers.append(hist(PT8_CD45_TOP_P, PT8_CD45_TOP_Y, sx([0, 79], 544, 623), sy([0, 6.0], [923, 845]),
                   xax(923, P8_CD45_TICKS, labels=False, domain=False),
                   yax(544, [0, 2, 4, 6], size=12, domain=False)))
layers.append(hist(PT8_CD45_BOT_P, PT8_CD45_BOT_Y, sx([0, 79], 544, 623), sy([0, 511], [1016, 938]),
                   xax(1016, P8_CD45_TICKS, size=12, expr=map_expr(P8_CD45_TICKS, ["0", "2", "3", "4", "5"]),
                       domain=False),
                   yax(544, [0, 200, 400], size=12, domain=False, fmt="d")))
layers.append(hist(PT8_PD1_TOP_P, PT8_PD1_TOP_Y, sx([0, 76], 662, 738), sy([0, 2.0], [923, 845]),
                   xax(923, P8_PD1_TICKS, labels=False, domain=False),
                   yax(662, [0, 1, 2], size=12, expr=DEC1, domain=False)))
layers.append(hist(PT8_PD1_BOT_P, PT8_PD1_BOT_Y, sx([0, 76], 662, 738), sy([0, 7930], [1016, 938]),
                   xax(1016, P8_PD1_TICKS, size=12, expr=map_expr(P8_PD1_TICKS, PD1_LABS), domain=False),
                   yax(662, [0, 2000, 4000, 6000], size=12, domain=False, fmt="d")))

layers += [
    prects([(167, 845, 247, 924), (283, 845, 359, 924), (544, 845, 623, 923), (662, 845, 738, 923)],
           fill="white", fill_opacity=0, stroke=MAGENTA, width=1.3),
    prects([(167, 938, 247, 1017), (283, 938, 359, 1017), (544, 938, 623, 1016), (662, 938, 738, 1016)],
           fill="white", fill_opacity=0, stroke=GATE_BLUE, width=1.3),
    prules([(208, 873, 246, 873), (208, 870, 208, 876), (246, 870, 246, 876),
            (312, 866, 358, 866), (312, 863, 312, 869), (358, 863, 358, 869),
            (207, 966, 245, 966), (207, 963, 207, 969), (245, 963, 245, 969),
            (312, 972, 358, 972), (312, 969, 312, 975), (358, 969, 358, 975),
            (593, 848, 622, 848), (593, 845, 593, 851), (622, 845, 622, 851),
            (692, 861, 737, 861), (692, 858, 692, 864), (737, 858, 737, 864),
            (592, 943, 622, 943), (592, 940, 592, 946), (622, 940, 622, 946),
            (692, 954, 737, 954), (692, 951, 692, 957), (737, 951, 737, 957)], color="#555555", width=1.2),
    ptext([("89.2", 233, 865), ("62.2", 346, 860), ("49.2", 233, 960), ("14.5", 337, 964),
           ("98.3", 610, 856), ("83.3", 723, 855), ("43.9", 576, 945), ("8.95", 722, 947)], size=13),
    prules([(72, 908, 161, 908), (505, 885, 540, 885)], color=MAGENTA, width=1.3),
    prules([(72, 943, 161, 943), (483, 943, 497, 978), (497, 978, 540, 978)], color=GATE_BLUE, width=1.3),
    ppoints([(163, 908), (542, 885)], "triangle-right", 22, MAGENTA),
    ppoints([(163, 943), (542, 978)], "triangle-right", 22, GATE_BLUE),
]

chart = alt.layer(*layers).resolve_scale(x="independent", y="independent").properties(
    width=W, height=H, padding=0, autosize=alt.AutoSizeParams(type="none")
).configure_view(stroke=None)

chart.save("out.html", embed_options={"renderer": "svg", "actions": False})
